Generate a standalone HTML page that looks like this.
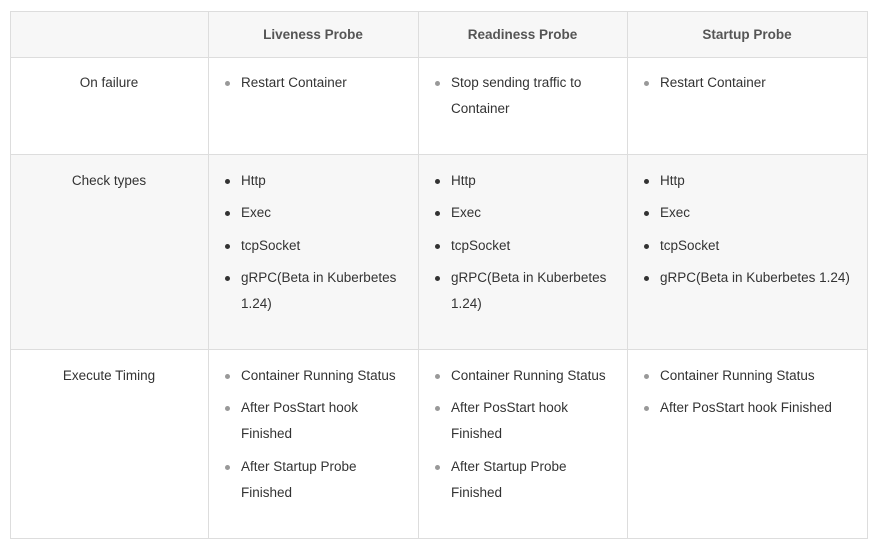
<!DOCTYPE html>
<html><head><meta charset="utf-8"><style>
body{margin:0;width:875px;height:548px;background:#fff;font-family:"Liberation Sans",sans-serif;font-size:13.5px;color:#333;position:relative;overflow:hidden}
.c{position:absolute;box-sizing:border-box;border-right:1px solid #ddd;border-bottom:1px solid #ddd}
.t{position:absolute;white-space:nowrap;line-height:26px;margin-top:1px}
.h{font-weight:bold;color:#555;text-align:center}
.b{position:absolute;width:5px;height:5px;border-radius:50%;background:#333;margin-top:1px}
.g{background:#999}
</style></head><body>
<div style="position:absolute;left:10px;top:11px;width:858px;height:528px;border-left:1px solid #ddd;border-top:1px solid #ddd;box-sizing:border-box"></div>
<div class="c" style="left:10px;top:11px;width:858px;height:47px;background:#f7f7f7;border:1px solid #ddd"></div>
<div class="c" style="left:10px;top:154px;width:858px;height:196px;background:#f7f7f7;border-left:1px solid #ddd"></div>
<div class="c" style="left:10px;top:57px;width:858px;height:98px;border-left:1px solid #ddd"></div>
<div class="c" style="left:10px;top:349px;width:858px;height:190px;border-left:1px solid #ddd"></div>
<div style="position:absolute;left:208px;top:11px;width:1px;height:528px;background:#ddd"></div>
<div style="position:absolute;left:418px;top:11px;width:1px;height:528px;background:#ddd"></div>
<div style="position:absolute;left:627px;top:11px;width:1px;height:528px;background:#ddd"></div>
<div class="t h" style="left:208px;width:210px;top:21px">Liveness Probe</div>
<div class="t h" style="left:418px;width:209px;top:21px">Readiness Probe</div>
<div class="t h" style="left:627px;width:240px;top:21px">Startup Probe</div>
<div class="t" style="left:10px;width:198px;text-align:center;top:69px">On failure</div>
<div class="t" style="left:10px;width:198px;text-align:center;top:167px">Check types</div>
<div class="t" style="left:10px;width:198px;text-align:center;top:362px">Execute Timing</div>
<div class="b g" style="left:225px;top:80px"></div><div class="t" style="left:241px;top:69px">Restart Container</div>
<div class="b g" style="left:435px;top:80px"></div><div class="t" style="left:451px;top:69px">Stop sending traffic to<br>Container</div>
<div class="b g" style="left:644px;top:80px"></div><div class="t" style="left:660px;top:69px">Restart Container</div>
<div class="b" style="left:225px;top:178px"></div><div class="t" style="left:241px;top:167px">Http</div>
<div class="b" style="left:225px;top:210px"></div><div class="t" style="left:241px;top:199px">Exec</div>
<div class="b" style="left:225px;top:243px"></div><div class="t" style="left:241px;top:232px">tcpSocket</div>
<div class="b" style="left:225px;top:275px"></div><div class="t" style="left:241px;top:264px">gRPC(Beta in Kuberbetes<br>1.24)</div>
<div class="b" style="left:435px;top:178px"></div><div class="t" style="left:451px;top:167px">Http</div>
<div class="b" style="left:435px;top:210px"></div><div class="t" style="left:451px;top:199px">Exec</div>
<div class="b" style="left:435px;top:243px"></div><div class="t" style="left:451px;top:232px">tcpSocket</div>
<div class="b" style="left:435px;top:275px"></div><div class="t" style="left:451px;top:264px">gRPC(Beta in Kuberbetes<br>1.24)</div>
<div class="b" style="left:644px;top:178px"></div><div class="t" style="left:660px;top:167px">Http</div>
<div class="b" style="left:644px;top:210px"></div><div class="t" style="left:660px;top:199px">Exec</div>
<div class="b" style="left:644px;top:243px"></div><div class="t" style="left:660px;top:232px">tcpSocket</div>
<div class="b" style="left:644px;top:275px"></div><div class="t" style="left:660px;top:264px">gRPC(Beta in Kuberbetes 1.24)</div>
<div class="b g" style="left:225px;top:373px"></div><div class="t" style="left:241px;top:362px">Container Running Status</div>
<div class="b g" style="left:225px;top:405px"></div><div class="t" style="left:241px;top:394px">After PosStart hook<br>Finished</div>
<div class="b g" style="left:225px;top:464px"></div><div class="t" style="left:241px;top:453px">After Startup Probe<br>Finished</div>
<div class="b g" style="left:435px;top:373px"></div><div class="t" style="left:451px;top:362px">Container Running Status</div>
<div class="b g" style="left:435px;top:405px"></div><div class="t" style="left:451px;top:394px">After PosStart hook<br>Finished</div>
<div class="b g" style="left:435px;top:464px"></div><div class="t" style="left:451px;top:453px">After Startup Probe<br>Finished</div>
<div class="b g" style="left:644px;top:373px"></div><div class="t" style="left:660px;top:362px">Container Running Status</div>
<div class="b g" style="left:644px;top:405px"></div><div class="t" style="left:660px;top:394px">After PosStart hook Finished</div>
</body></html>
